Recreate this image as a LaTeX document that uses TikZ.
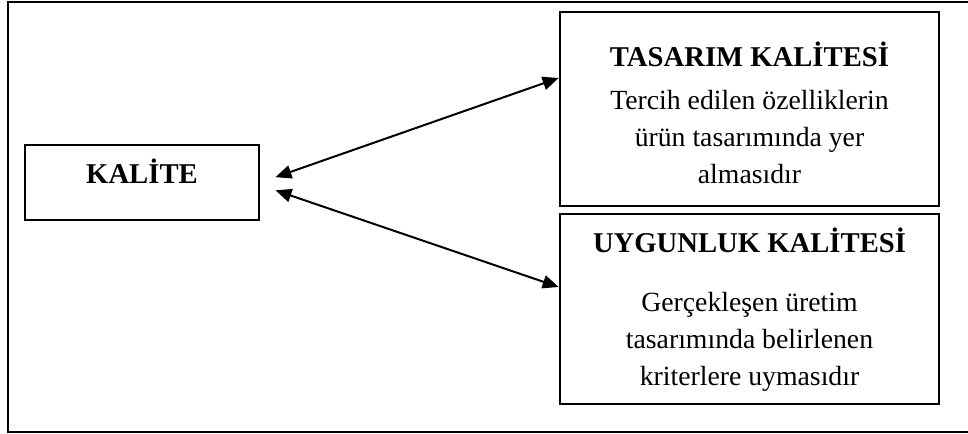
\documentclass[tikz,border=0pt]{standalone}
\usepackage{fontspec}
\setmainfont{Liberation Serif}
\usetikzlibrary{positioning,arrows.meta}
\tikzset{
  qbox/.style={draw, line width=2pt, inner sep=0pt},
  qtitle/.style={font=\fontsize{21.5}{26}\selectfont\bfseries, inner sep=0pt},
  qtext/.style={font=\fontsize{20.8}{27.75}\selectfont, align=center, inner sep=0pt},
  arr/.style={{Triangle[length=12pt,width=10pt]}-{Triangle[length=12pt,width=10pt]}, line width=1.5pt},
}
\begin{document}
\begin{tikzpicture}[x=0.75pt,y=-0.75pt]
  \useasboundingbox (0,0) rectangle (968,434);
  % outer frame, its right side runs off the page
  \draw[line width=1.6pt] (8,2) rectangle (990,432);
  % kalite
  \node[qbox, minimum width=175.5pt, minimum height=56.25pt] (kalite) at (142,182.5) {};
  \node[qtitle, anchor=base] (kalitebas) at (142,184) {KALİTE};
  % tasarim kalitesi
  \node[qbox, minimum width=284.25pt, minimum height=145.5pt] (tasarim) at (749.5,109) {};
  \node[qtitle, anchor=base] (tasarimbas) at (749.5,67) {TASARIM KALİTESİ};
  \node[qtext, below=16.5pt of tasarimbas] (tasarimmetin)
    {Tercih edilen özelliklerin\\ürün tasarımında yer\\almasıdır};
  % uygunluk kalitesi
  \node[qbox, minimum width=284.25pt, minimum height=142.5pt] (uygunluk) at (749.5,309) {};
  \node[qtitle, anchor=base] (uygunlukbas) at (749.5,253) {UYGUNLUK KALİTESİ};
  \node[qtext, below=28.5pt of uygunlukbas] (uygunlukmetin)
    {Gerçekleşen üretim\\tasarımında belirlenen\\kriterlere uymasıdır};
  % arrows
  \draw[arr, shorten <=12pt] (kalite.east) -- ([yshift=23.25pt]tasarim.west);
  \draw[arr, shorten <=12pt] ([yshift=-2pt]kalite.east) -- ([yshift=16.5pt]uygunluk.west);
\end{tikzpicture}
\end{document}
